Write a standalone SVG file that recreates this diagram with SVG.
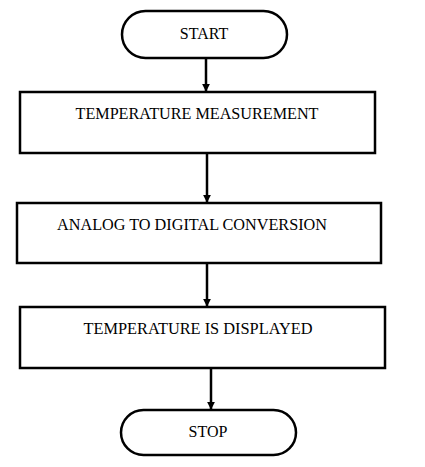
<svg xmlns="http://www.w3.org/2000/svg" width="425" height="467" viewBox="0 0 425 467">
<defs>
<style>
.s{fill:#fff;stroke:#000;stroke-width:2.5}
.t{font-family:"Liberation Serif","Times New Roman",serif;font-size:16px;fill:#000;text-anchor:middle}
.c{stroke:#000;stroke-width:2.5;fill:none}
</style>
<marker id="ah" viewBox="0 0 10 10" refX="9" refY="5" markerWidth="3.2" markerHeight="3.2" markerUnits="strokeWidth" orient="auto"><path d="M0,0L10,5L0,10z" fill="#000"/></marker>
</defs>
<rect width="425" height="467" fill="#fff"/>
<g id="connectors">
<line class="c" x1="206" y1="57" x2="206" y2="91" marker-end="url(#ah)"/>
<line class="c" x1="207" y1="154" x2="207" y2="202" marker-end="url(#ah)"/>
<line class="c" x1="207" y1="264" x2="207" y2="306" marker-end="url(#ah)"/>
<line class="c" x1="211" y1="369" x2="211" y2="409" marker-end="url(#ah)"/>
</g>
<g id="start"><rect class="s" x="122" y="11" width="165" height="47" rx="23.5"/><text class="t" x="204" y="39">START</text></g>
<g id="measure"><rect class="s" x="20" y="92" width="355" height="61"/><text class="t" x="197" y="119" textLength="243" lengthAdjust="spacingAndGlyphs">TEMPERATURE MEASUREMENT</text></g>
<g id="adc"><rect class="s" x="17" y="203" width="364" height="60"/><text class="t" x="192" y="230" textLength="270" lengthAdjust="spacingAndGlyphs">ANALOG TO DIGITAL CONVERSION</text></g>
<g id="display"><rect class="s" x="20" y="307" width="365" height="61"/><text class="t" x="198" y="334" textLength="229" lengthAdjust="spacingAndGlyphs">TEMPERATURE IS DISPLAYED</text></g>
<g id="stop"><rect class="s" x="121" y="410" width="175" height="45" rx="22.5"/><text class="t" x="208" y="437">STOP</text></g>
</svg>
